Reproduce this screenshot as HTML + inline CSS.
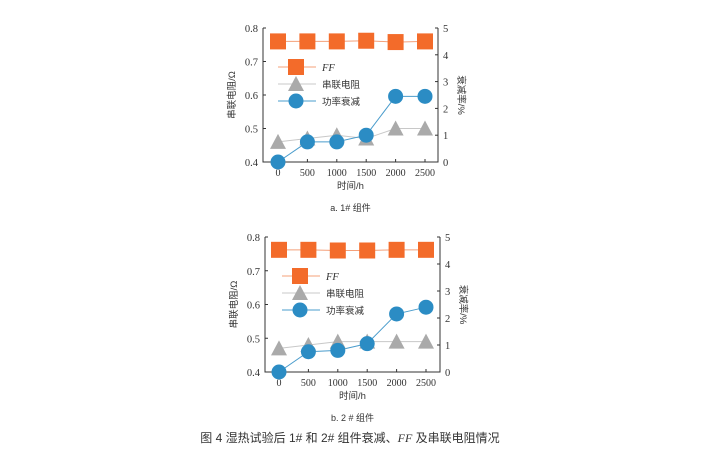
<!DOCTYPE html>
<html><head><meta charset="utf-8"><style>
body{margin:0;background:#fff;width:708px;height:469px;overflow:hidden}
svg{display:block}
text{font-family:"Liberation Serif","Noto Serif CJK SC",serif;fill:#333}
.cj{font-family:"Liberation Sans","Noto Sans CJK SC",sans-serif}
</style></head><body>
<svg id="s" width="708" height="469" xmlns="http://www.w3.org/2000/svg"></svg>
<script>
const s=document.getElementById('s');let h='';
function chart(L,R,T,B,x0,x1,ff,rs,pw,leg,sub){
  const X=i=>x0+(x1-x0)*i/5, YL=v=>B-(v-0.4)/0.4*(B-T), YR=p=>B-p/5*(B-T);
  h+=`<path d="M${L} ${T}V${B}H${R}V${T}" fill="none" stroke="#333" stroke-width="1"/>`;
  for(let i=0;i<=4;i++){const y=B-(B-T)*i/4;h+=`<line x1="${L}" x2="${L+3}" y1="${y}" y2="${y}" stroke="#333"/><text x="${L-5}" y="${y+4}" font-size="10.5" text-anchor="end">${(0.4+i*0.1).toFixed(1)}</text>`;}
  for(let i=0;i<=5;i++){const y=B-(B-T)*i/5;h+=`<line x1="${R}" x2="${R-3}" y1="${y}" y2="${y}" stroke="#333"/><text x="${R+5}" y="${y+4}" font-size="10.5">${i}</text>`;}
  for(let i=0;i<=5;i++){h+=`<line x1="${X(i)}" x2="${X(i)}" y1="${B}" y2="${B-3}" stroke="#333"/><text x="${X(i)}" y="${B+14}" font-size="10" text-anchor="middle">${i*500}</text>`;}
  const line=(arr,f,c)=>`<polyline points="${arr.map((v,i)=>X(i)+','+f(v)).join(' ')}" fill="none" stroke="${c}" stroke-width="1"/>`;
  h+=line(ff,YL,'#f4a07a')+line(rs,YL,'#c8c8c8')+line(pw,YR,'#4a9ccc');
  const sq=(x,y)=>`<rect x="${x-8}" y="${y-8}" width="16" height="16" fill="#f36b2a"/>`;
  const tr=(x,y)=>`<polygon points="${x},${y-8} ${x-8},${y+7} ${x+8},${y+7}" fill="#aaa"/>`;
  const ci=(x,y)=>`<circle cx="${x}" cy="${y}" r="7.5" fill="#2b8cc4"/>`;
  ff.forEach((v,i)=>h+=sq(X(i),YL(v)));rs.forEach((v,i)=>h+=tr(X(i),YL(v)));pw.forEach((v,i)=>h+=ci(X(i),YR(v)));
  const [lx,ly]=leg;
  h+=`<line x1="${lx-18}" x2="${lx+20}" y1="${ly}" y2="${ly}" stroke="#f4a07a"/>`+sq(lx,ly)+`<text x="${lx+26}" y="${ly+4}" font-size="10.5" font-style="italic">FF</text>`;
  h+=`<line x1="${lx-18}" x2="${lx+20}" y1="${ly+17}" y2="${ly+17}" stroke="#c8c8c8"/>`+tr(lx,ly+17)+`<text class="cj" x="${lx+26}" y="${ly+21}" font-size="9.5" fill="#666">串联电阻</text>`;
  h+=`<line x1="${lx-18}" x2="${lx+20}" y1="${ly+34}" y2="${ly+34}" stroke="#4a9ccc"/>`+ci(lx,ly+34)+`<text class="cj" x="${lx+26}" y="${ly+38}" font-size="9.5" fill="#666">功率衰减</text>`;
  const my=(T+B)/2;
  h+=`<text class="cj" x="0" y="0" font-size="9.5" text-anchor="middle" transform="translate(${L-28},${my}) rotate(-90)">串联电阻/Ω</text>`;
  h+=`<text class="cj" x="0" y="0" font-size="9.5" text-anchor="middle" fill="#666" transform="translate(${R+20},${my}) rotate(90)">衰减率/%</text>`;
  h+=`<text class="cj" x="${(L+R)/2}" y="${B+27}" font-size="9.5" text-anchor="middle">时间/h</text>`;
  h+=`<text class="cj" x="${(L+R)/2}" y="${B+49}" font-size="9" text-anchor="middle">${sub}</text>`;
}
chart(263,438,28,162,278,425,[0.76,0.76,0.76,0.762,0.758,0.76],[0.46,0.47,0.48,0.47,0.50,0.50],[0,0.75,0.75,1.0,2.45,2.45],[296,67],'a. 1# 组件');
chart(265,440,237,372,279,426,[0.762,0.762,0.76,0.76,0.762,0.762],[0.47,0.48,0.49,0.49,0.49,0.49],[0,0.75,0.8,1.05,2.15,2.4],[300,276],'b. 2 # 组件');
h+=`<text class="cj" x="350" y="442" font-size="12" text-anchor="middle">图 4  湿热试验后 1# 和 2# 组件衰减、<tspan font-style="italic" font-family="Liberation Serif">FF</tspan> 及串联电阻情况</text>`;
s.innerHTML=h;
</script>
</body></html>
